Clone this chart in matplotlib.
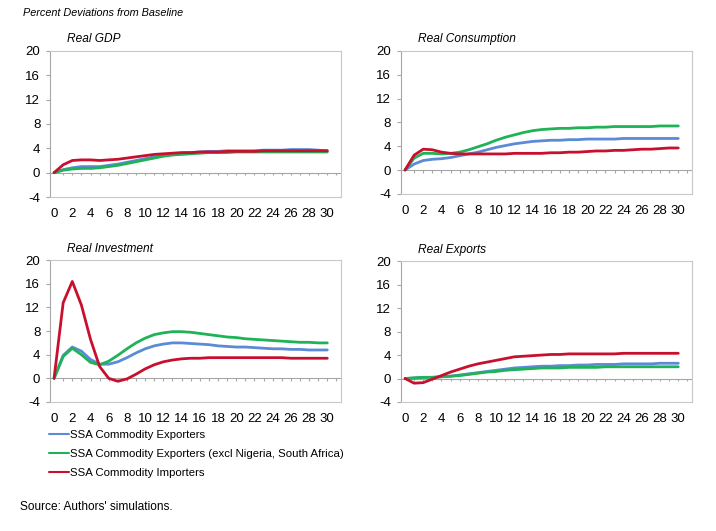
import matplotlib
matplotlib.use('Agg')
import matplotlib.pyplot as plt
import numpy as np

plt.rcParams['font.family'] = ['Liberation Sans', 'DejaVu Sans']
plt.rcParams['axes.unicode_minus'] = False

# orizzonte (anni)
anni = np.arange(0, 31)

# Real GDP
gdp_esportatori = [0, 0.5, 0.8, 1.0, 1.0, 1.0, 1.2, 1.4, 1.7, 2.0, 2.3, 2.6, 2.8, 3.0, 3.2, 3.3,
                   3.4, 3.5, 3.5, 3.6, 3.6, 3.6, 3.6, 3.7, 3.7, 3.7, 3.8, 3.8, 3.8, 3.7, 3.6]
gdp_esportatori_excl = [0, 0.4, 0.6, 0.7, 0.7, 0.8, 1.0, 1.2, 1.5, 1.8, 2.1, 2.4, 2.7, 2.9, 3.0, 3.1,
                        3.2, 3.3, 3.3, 3.3, 3.4, 3.4, 3.4, 3.4, 3.4, 3.4, 3.4, 3.4, 3.4, 3.4, 3.4]
gdp_importatori = [0, 1.3, 2.0, 2.1, 2.1, 2.0, 2.1, 2.2, 2.4, 2.6, 2.8, 3.0, 3.1, 3.2, 3.3, 3.3,
                   3.4, 3.4, 3.4, 3.5, 3.5, 3.5, 3.5, 3.6, 3.6, 3.6, 3.6, 3.6, 3.6, 3.6, 3.6]

# Real Consumption
cons_esportatori = [0, 1.0, 1.6, 1.8, 1.9, 2.1, 2.4, 2.7, 3.0, 3.4, 3.8, 4.1, 4.4, 4.6, 4.8, 4.9,
                    5.0, 5.0, 5.1, 5.1, 5.2, 5.2, 5.2, 5.2, 5.3, 5.3, 5.3, 5.3, 5.3, 5.3, 5.3]
cons_esportatori_excl = [0, 2.0, 2.8, 2.8, 2.7, 2.8, 3.0, 3.4, 3.9, 4.4, 5.0, 5.5, 5.9, 6.3, 6.6, 6.8,
                         6.9, 7.0, 7.0, 7.1, 7.1, 7.2, 7.2, 7.3, 7.3, 7.3, 7.3, 7.3, 7.4, 7.4, 7.4]
cons_importatori = [0, 2.5, 3.5, 3.4, 3.0, 2.8, 2.7, 2.7, 2.7, 2.7, 2.7, 2.7, 2.8, 2.8, 2.8, 2.8,
                    2.9, 2.9, 3.0, 3.0, 3.1, 3.2, 3.2, 3.3, 3.3, 3.4, 3.5, 3.5, 3.6, 3.7, 3.7]

# Real Investment
inv_esportatori = [0, 3.9, 5.3, 4.6, 3.2, 2.4, 2.4, 2.8, 3.5, 4.3, 5.0, 5.5, 5.8, 6.0, 6.0, 5.9,
                   5.8, 5.7, 5.5, 5.4, 5.3, 5.3, 5.2, 5.1, 5.0, 5.0, 4.9, 4.9, 4.8, 4.8, 4.8]
inv_esportatori_excl = [0, 3.7, 5.1, 4.0, 2.7, 2.3, 2.9, 3.9, 5.0, 6.0, 6.8, 7.4, 7.7, 7.9, 7.9, 7.8,
                        7.6, 7.4, 7.2, 7.0, 6.9, 6.7, 6.6, 6.5, 6.4, 6.3, 6.2, 6.1, 6.1, 6.0, 6.0]
inv_importatori = [0, 12.8, 16.4, 12.4, 6.6, 2.0, 0.0, -0.5, -0.1, 0.7, 1.6, 2.3, 2.8, 3.1, 3.3, 3.4,
                   3.4, 3.5, 3.5, 3.5, 3.5, 3.5, 3.5, 3.5, 3.5, 3.5, 3.4, 3.4, 3.4, 3.4, 3.4]

# Real Exports
exp_esportatori = [0, 0.1, 0.2, 0.2, 0.3, 0.4, 0.6, 0.8, 1.0, 1.2, 1.4, 1.6, 1.8, 1.9, 2.0, 2.1,
                   2.1, 2.2, 2.2, 2.3, 2.3, 2.4, 2.4, 2.4, 2.5, 2.5, 2.5, 2.5, 2.6, 2.6, 2.6]
exp_esportatori_excl = [0, 0.1, 0.2, 0.2, 0.3, 0.4, 0.5, 0.7, 0.9, 1.1, 1.2, 1.4, 1.5, 1.6, 1.7, 1.8,
                        1.8, 1.8, 1.9, 1.9, 1.9, 1.9, 2.0, 2.0, 2.0, 2.0, 2.0, 2.0, 2.0, 2.0, 2.0]
exp_importatori = [0, -0.8, -0.7, -0.1, 0.5, 1.1, 1.6, 2.1, 2.5, 2.8, 3.1, 3.4, 3.7, 3.8, 3.9, 4.0,
                   4.1, 4.1, 4.2, 4.2, 4.2, 4.2, 4.2, 4.2, 4.3, 4.3, 4.3, 4.3, 4.3, 4.3, 4.3]

etichette = ['SSA Commodity Exporters',
             'SSA Commodity Exporters (excl Nigeria, South Africa)',
             'SSA Commodity Importers']
colori = ['#5b8ad6', '#1fb257', '#c8102e']

pannelli = [
    ('Real GDP', [gdp_esportatori, gdp_esportatori_excl, gdp_importatori], [0.0698, 0.629, 0.4064, 0.275]),
    ('Real Consumption', [cons_esportatori, cons_esportatori_excl, cons_importatori], [0.560, 0.635, 0.4064, 0.269]),
    ('Real Investment', [inv_esportatori, inv_esportatori_excl, inv_importatori], [0.0698, 0.243, 0.4064, 0.267]),
    ('Real Exports', [exp_esportatori, exp_esportatori_excl, exp_importatori], [0.560, 0.243, 0.4064, 0.265]),
]

fig = plt.figure(figsize=(7.16, 5.31), dpi=100)
grigio = '#a6a6a6'

assi = []
for titolo, serie, pos in pannelli:
    ax = fig.add_axes(pos)
    linee = []
    for valori, col, lab in zip(serie, colori, etichette):
        l, = ax.plot(anni, valori, color=col, lw=2, label=lab, solid_capstyle='round')
        linee.append(l)
    ax.set_xlim(-0.45, 31.5)
    ax.set_ylim(-4, 20)
    ax.set_yticks(np.arange(-4, 21, 4))
    ax.set_xticks(np.arange(0, 31, 2))
    ax.tick_params(axis='x', length=0, labelsize=9.5, pad=8)
    ax.tick_params(axis='y', length=3, color=grigio, labelsize=9.5, pad=4)
    # asse orizzontale sullo zero con tacche
    ax.axhline(0, color=grigio, lw=0.8, zorder=1)
    ax.vlines(np.arange(1, 32), -0.45, 0, color=grigio, lw=0.8, zorder=1)
    for s in ax.spines.values():
        s.set_color('#c8c8c8')
        s.set_linewidth(0.8)
    ax.spines['left'].set_color(grigio)
    ax.text(0.058, 1.04, titolo, transform=ax.transAxes, fontsize=8.6, style='italic',
            ha='left', va='bottom')
    assi.append((ax, linee))

fig.text(0.032, 0.985, 'Percent Deviations from Baseline', fontsize=7.8, style='italic',
         ha='left', va='top')

# legenda sotto il pannello in basso a sinistra
ax_leg, linee_leg = assi[2]
fig.legend(linee_leg, etichette, loc='upper left', bbox_to_anchor=(0.062, 0.198),
           frameon=False, handlelength=1.75, handletextpad=0.1,
           labelspacing=0.75, borderaxespad=0, fontsize=8.2)
for h in fig.legends[0].legend_handles:
    h.set_linewidth(1.5)

fig.text(0.028, 0.045, "Source: Authors' simulations.", fontsize=8.6, ha='left', va='center')

plt.savefig('out.png', dpi=100)
